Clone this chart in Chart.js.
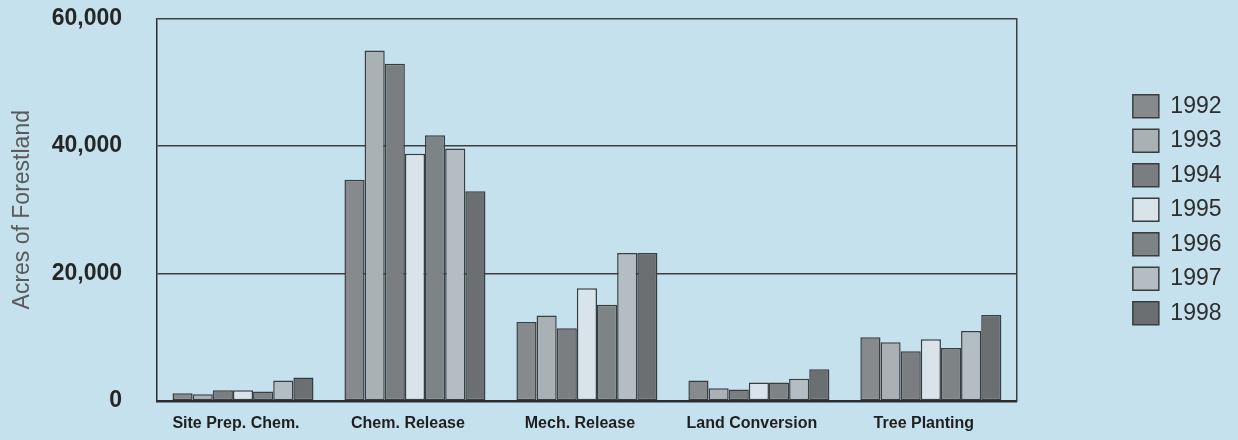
<!DOCTYPE html>
<html>
<head>
<meta charset="utf-8">
<script src="https://cdn.jsdelivr.net/npm/chart.js@4/dist/chart.umd.min.js"></script>
<style>
  html, body { margin: 0; padding: 0; background: #c5e1ee; }
  #wrap { width: 1238px; height: 440px; }
</style>
</head>
<body>
<div id="wrap"><canvas id="c" width="1238" height="440"></canvas></div>
<script>
const categories = ['Site Prep. Chem.', 'Chem. Release', 'Mech. Release', 'Land Conversion', 'Tree Planting'];
const years = ['1992', '1993', '1994', '1995', '1996', '1997', '1998'];
const v1992 = [1200, 34700, 12400, 3200, 10000];
const v1993 = [1050, 55000, 13400, 2000, 9200];
const v1994 = [1700, 52900, 11400, 1800, 7800];
const v1995 = [1700, 38800, 17700, 2900, 9700];
const v1996 = [1500, 41700, 15100, 2900, 8300];
const v1997 = [3200, 39600, 23200, 3500, 11000];
const v1998 = [3700, 32900, 23200, 5000, 13500];
const yTickValues = [0, 20000, 40000, 60000];
const yTitle = 'Acres of Forestland';

const seriesValues = [v1992, v1993, v1994, v1995, v1996, v1997, v1998];
const fills = ['#868a8d', '#aab1b5', '#7a7e81', '#d8e4ea', '#7e8386', '#b4bdc2', '#6b6f72'];

const bgPlugin = {
  id: 'bg',
  beforeDraw(chart) {
    const ctx = chart.ctx;
    ctx.save();
    ctx.fillStyle = '#c5e1ee';
    ctx.fillRect(0, 0, chart.width, chart.height);
    ctx.restore();
  }
};

new Chart(document.getElementById('c'), {
  type: 'bar',
  data: {
    labels: categories,
    datasets: years.map((y, i) => ({
      label: y,
      data: seriesValues[i],
      backgroundColor: fills[i],
      borderColor: '#3a3d3f',
      borderWidth: 1.5,
      borderSkipped: false,
      barPercentage: 1.0,
      categoryPercentage: 0.82
    }))
  },
  options: {
    responsive: false,
    animation: false,
    devicePixelRatio: 1,
    layout: { padding: { top: 18.5, right: 6.5, left: 0, bottom: 0 } },
    plugins: {
      legend: {
        position: 'right',
        fullSize: false,
        align: 'center',
        labels: {
          boxWidth: 26,
          boxHeight: 23,
          padding: 11.5,
          color: '#2e2e2e',
          font: { family: 'Liberation Sans, Arial, sans-serif', size: 23 }
        }
      },
      tooltip: { enabled: false }
    },
    scales: {
      x: {
        grid: { display: false, drawTicks: false },
        border: { display: true, color: '#2b2d2e', width: 2.5 },
        ticks: {
          color: '#1f1f1f',
          padding: 13,
          labelOffset: -7,
          font: { family: 'Liberation Sans, Arial, sans-serif', size: 16, weight: 'bold' },
          maxRotation: 0,
          autoSkip: false
        },
        afterFit(s) { s.height = 39; s.paddingLeft = 0; s.paddingRight = 0; }
      },
      y: {
        min: 0,
        max: 60000,
        afterBuildTicks(s) { s.ticks = yTickValues.map(v => ({ value: v })); },
        grid: { color: '#3c3f41', lineWidth: 1.5, drawTicks: false },
        border: { display: true, color: '#2b2d2e', width: 1.5 },
        ticks: {
          color: '#262626',
          padding: 35,
          font: { family: 'Liberation Sans, Arial, sans-serif', size: 23, weight: 'bold' },
          callback: v => v.toLocaleString('en-US')
        },
        title: {
          display: true,
          text: yTitle,
          color: '#5a5a5a',
          padding: { top: 9, bottom: 0 },
          font: { family: 'Liberation Sans, Arial, sans-serif', size: 23 }
        },
        afterFit(s) { s.width = 157; s.paddingTop = 0; s.paddingBottom = 0; }
      },
      yRight: {
        position: 'right',
        min: 0,
        max: 1,
        grid: { display: false, drawTicks: false },
        border: { display: true, color: '#3c3f41', width: 1.5 },
        ticks: { display: false },
        afterFit(s) { s.width = 104.5; s.paddingTop = 0; s.paddingBottom = 0; }
      }
    }
  },
  plugins: [bgPlugin]
});
</script>
</body>
</html>
